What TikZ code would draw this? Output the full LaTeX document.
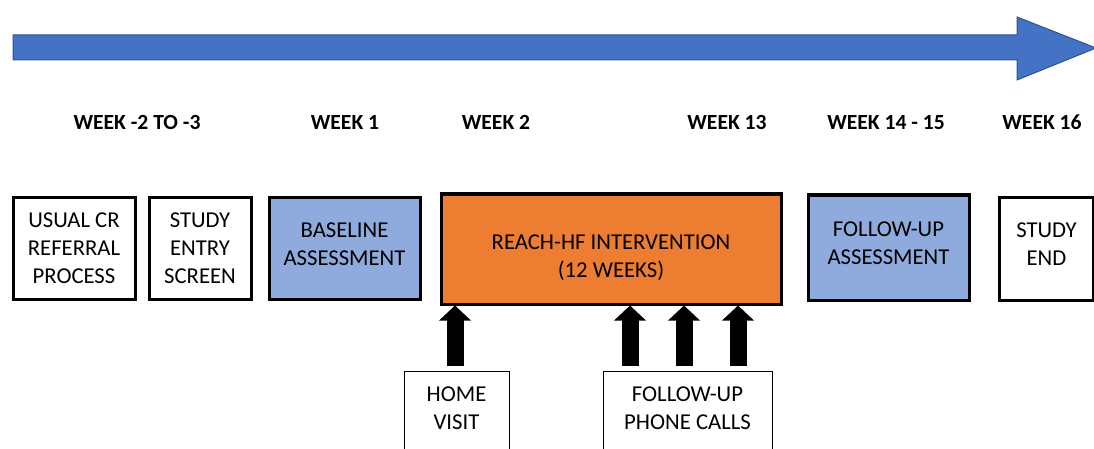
\documentclass[tikz,border=0pt]{standalone}
\usepackage{fontspec}
\setmainfont{Carlito}
\usepackage{xcolor}
\usetikzlibrary{arrows.meta}
\definecolor{timeblue}{HTML}{4472C4}
\definecolor{timeedge}{HTML}{2F528F}
\definecolor{assessblue}{HTML}{8FAADC}
\definecolor{reachorange}{HTML}{ED7D31}
\tikzset{
  stage/.style={draw, line width=3pt, align=center, inner sep=0pt,
    font=\fontsize{22.7}{28}\selectfont},
  extra/.style={draw, line width=1pt, align=center, inner sep=0pt,
    font=\fontsize{22.7}{28}\selectfont},
  week/.style={anchor=base, font=\fontsize{21.6}{26}\selectfont\bfseries},
  blockarrow/.style={line width=17pt, -{Triangle[length=15pt,width=31pt]}, shorten <=5pt}
}

\begin{document}
\begin{tikzpicture}[x=1pt,y=-1pt]
        \useasboundingbox (0,0) rectangle (1094,449);
        \clip (0,0) rectangle (1094,449);
        % timeline
        \filldraw[fill=timeblue, draw=timeedge, line width=1pt]
          (13,35) -- (1017,35) -- (1017,17) -- (1096,48) -- (1017,80) -- (1017,60) -- (13,60) -- cycle;
        \node[week] (w1) at (137,130) {WEEK -2 TO -3};
        \node[week] (w2) at (345,130) {WEEK 1};
        \node[week] (w3) at (496,130) {WEEK 2};
        \node[week] (w4) at (727,130) {WEEK 13};
        \node[week] (w5) at (886,130) {WEEK 14 - 15};
        \node[week] (w6) at (1042,130) {WEEK 16};
        % stages
        \node[stage, minimum width=122pt, minimum height=102pt] (usual) at (74,248) {USUAL CR\\REFERRAL\\PROCESS};
        \node[stage, minimum width=102pt, minimum height=102pt] (entry) at (200,248) {STUDY\\ENTRY\\SCREEN};
        \node[stage, fill=assessblue, minimum width=151pt, minimum height=102pt] (base) at (344.5,248) {BASELINE\\ASSESSMENT\\[-28pt]\strut};
        \node[stage, fill=reachorange, minimum width=340pt, minimum height=110pt] (reach) at (611,249) {\strut\\[-16pt]REACH-HF INTERVENTION\\(12 WEEKS)};
        \node[stage, fill=assessblue, minimum width=161pt, minimum height=105pt] (fup) at (888.5,247.5) {FOLLOW-UP\\ASSESSMENT\\[-28pt]\strut};
        \node[stage, minimum width=94pt, minimum height=103pt] (end) at (1046.5,248.5) {STUDY\\END\\[-28pt]\strut};
        % contacts
        \node[extra, minimum width=105pt, minimum height=100pt] (home) at (456.5,421) {HOME\\VISIT\\[-10pt]\strut};
        \node[extra, minimum width=169pt, minimum height=100pt] (phone) at (687.5,421) {FOLLOW-UP\\PHONE CALLS\\[-10pt]\strut};
        \draw[blockarrow] (home.north -| 455,0) -- (reach.south -| 455,0);
        \foreach \px in {630,684,738}
          \draw[blockarrow] (phone.north -| \px,0) -- (reach.south -| \px,0);
    \end{tikzpicture}
\end{document}
